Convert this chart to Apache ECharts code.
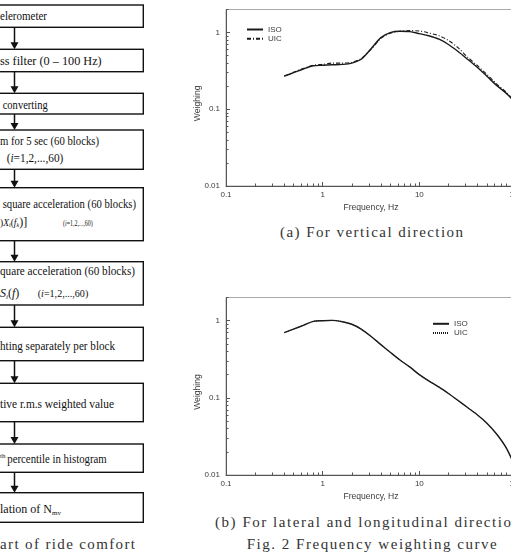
<!DOCTYPE html>
<html>
<head>
<meta charset="utf-8">
<script src="https://cdn.jsdelivr.net/npm/echarts@6/dist/echarts.min.js"></script>
<style>
html,body{margin:0;padding:0;width:511px;height:554px;overflow:hidden;background:#fff}
#fig{position:absolute;left:0;top:0}
#chart{position:absolute;left:0;top:0;width:560px;height:554px}
</style>
</head>
<body>
<svg id="fig" width="511" height="554" font-family="'Liberation Serif',serif">
  <g fill="none" stroke="#111" stroke-width="1.4">
    <rect x="-10" y="5" width="153.3" height="22.3"/>
    <rect x="-10" y="49.3" width="153.3" height="22.4"/>
    <rect x="-10" y="93.3" width="153.3" height="20.7"/>
    <rect x="-10" y="130" width="153.3" height="39.3"/>
    <rect x="-10" y="187.7" width="153.3" height="53"/>
    <rect x="-10" y="261.7" width="153.3" height="43.3"/>
    <rect x="-10" y="327.3" width="153.3" height="33.4"/>
    <rect x="-10" y="383.3" width="153.3" height="38.4"/>
    <rect x="-10" y="444" width="153.3" height="28.3"/>
    <rect x="-10" y="492.7" width="153.3" height="29.6"/>
  </g>
  <g id="arrows" stroke="#111" stroke-width="1.5" fill="#111"></g>
  <g fill="#111" font-size="12">
    <text x="0" y="20" textLength="47" lengthAdjust="spacingAndGlyphs">elerometer</text>
    <text x="0" y="65" textLength="101.7" lengthAdjust="spacingAndGlyphs">ss filter (0 – 100 Hz)</text>
    <text x="2.7" y="108.5" textLength="45" lengthAdjust="spacingAndGlyphs">converting</text>
    <text x="0" y="145" textLength="99" lengthAdjust="spacingAndGlyphs">m for 5 sec (60 blocks)</text>
    <text x="6.7" y="162" textLength="56.6" lengthAdjust="spacingAndGlyphs">(<tspan font-style="italic">i</tspan>=1,2,...,60)</text>
    <text x="2.7" y="208" textLength="133.3" lengthAdjust="spacingAndGlyphs">square acceleration (60 blocks)</text>
    <text x="0" y="225.5" font-size="9.5">)<tspan font-style="italic">X</tspan><tspan font-size="6" dy="1.5" font-style="italic">i</tspan><tspan dy="-1.5">(</tspan><tspan font-style="italic">f</tspan><tspan font-size="6" dy="1.5" font-style="italic">k</tspan><tspan dy="-1.5" font-size="12">)]</tspan></text>
    <text x="63" y="225.5" font-size="8" textLength="29.7" lengthAdjust="spacingAndGlyphs">(<tspan font-style="italic">i</tspan>=1,2,...,60)</text>
    <text x="0" y="274.5" textLength="135" lengthAdjust="spacingAndGlyphs">quare acceleration (60 blocks)</text>
    <text x="0" y="297"><tspan font-style="italic">S</tspan><tspan font-size="7" dy="1.5" font-style="italic">i</tspan><tspan dy="-1.5">(</tspan><tspan font-style="italic">f</tspan>)</text>
    <text x="37.7" y="297" font-size="11" textLength="50.6" lengthAdjust="spacingAndGlyphs">(<tspan font-style="italic">i</tspan>=1,2,...,60)</text>
    <text x="0" y="350" textLength="115" lengthAdjust="spacingAndGlyphs">hting separately per block</text>
    <text x="0" y="407.5" textLength="114" lengthAdjust="spacingAndGlyphs">tive r.m.s weighted value</text>
    <text x="0" y="458" font-size="7">th</text>
    <text x="7.3" y="462.5" textLength="99.4" lengthAdjust="spacingAndGlyphs">percentile in histogram</text>
    <text x="0" y="512.5">lation of N<tspan font-size="7" dy="2">mv</tspan></text>
  </g>
  <g fill="#333" font-size="15">
    <text x="0" y="549" textLength="135" lengthAdjust="spacing">art of ride comfort</text>
    <text x="280" y="236.5" textLength="183" lengthAdjust="spacing">(a) For vertical direction</text>
    <text x="215" y="527" textLength="305" lengthAdjust="spacing">(b) For lateral and longitudinal direction</text>
    <text x="246.7" y="549" textLength="250" lengthAdjust="spacing">Fig. 2 Frequency weighting curve</text>
  </g>
</svg>
<div id="chart"></div>
<script>
// frequency weighting curves (1/3 octave points)
const FREQ = [0.4, 0.5, 0.63, 0.8, 1, 1.25, 1.6, 2, 2.5, 3.15, 4, 5, 6.3, 8, 10, 12.5, 16, 20, 25, 31.5, 40, 50, 63, 80, 100];
const ISO_VERT = [0.27, 0.30, 0.335, 0.37, 0.375, 0.38, 0.385, 0.40, 0.45, 0.61, 0.86, 1.0, 1.04, 1.03, 0.97, 0.91, 0.82, 0.70, 0.57, 0.45, 0.35, 0.27, 0.205, 0.16, 0.12];
const UIC_VERT = [0.27, 0.305, 0.34, 0.375, 0.385, 0.40, 0.40, 0.41, 0.46, 0.60, 0.84, 0.98, 1.04, 1.06, 1.05, 0.99, 0.91, 0.79, 0.64, 0.48, 0.37, 0.285, 0.215, 0.165, 0.12];
const ISO_LAT = [0.70, 0.78, 0.87, 0.98, 1.0, 1.01, 0.97, 0.90, 0.78, 0.63, 0.49, 0.39, 0.31, 0.25, 0.20, 0.166, 0.138, 0.114, 0.093, 0.075, 0.060, 0.047, 0.034, 0.022, 0.012];
const UIC_LAT = [0.70, 0.78, 0.87, 0.98, 1.0, 1.01, 0.97, 0.90, 0.78, 0.63, 0.49, 0.39, 0.31, 0.25, 0.20, 0.166, 0.138, 0.114, 0.093, 0.075, 0.060, 0.047, 0.034, 0.022, 0.012];

const X_LABELS = [0.1, 1, 10, 100];
const X_MINOR = [0.2, 0.3, 0.4, 0.5, 0.6, 0.7, 0.8, 0.9, 2, 3, 4, 5, 6, 7, 8, 9, 20, 30, 40, 50, 60, 70, 80, 90];
const Y_LABELS = [0.01, 0.1, 1];
const Y_MINOR = [0.02, 0.03, 0.04, 0.05, 0.06, 0.07, 0.08, 0.09, 0.2, 0.3, 0.4, 0.5, 0.6, 0.7, 0.8, 0.9, 2];

const INK = '#3a3a3a';
const AXIS = '#555';
const LINE = '#1a1a1a';
const SANS = "'Liberation Sans',Arial,sans-serif";

// draw flowchart arrows between boxes
const ARROWS = [[27.3, 49.3], [71.7, 93.3], [114, 130], [169.3, 187.7], [240.7, 261.7], [305, 327.3], [360.7, 383.3], [421.7, 444], [472.3, 492.7]];
let arrowSvg = '';
ARROWS.forEach(a => {
  arrowSvg += '<path d="M14.5 ' + a[0] + 'V' + (a[1] - 6) + '" fill="none"/>';
  arrowSvg += '<path d="M10.5 ' + (a[1] - 7) + 'L18.5 ' + (a[1] - 7) + 'L14.5 ' + a[1] + 'Z" stroke="none"/>';
});
document.getElementById('arrows').innerHTML = arrowSvg;

function pairs(ys) {
  return FREQ.map((f, i) => [f, ys[i]]);
}

function mainX(gi) {
  return {
    type: 'log', gridIndex: gi, min: 0.1, max: 100,
    name: 'Frequency, Hz', nameLocation: 'middle', nameGap: 17.5,
    nameTextStyle: { fontSize: 8.6, color: INK, fontFamily: SANS },
    axisLine: { lineStyle: { color: AXIS, width: 1 } },
    axisTick: { inside: true, length: 4, customValues: X_LABELS, lineStyle: { color: AXIS } },
    axisLabel: { customValues: X_LABELS, fontSize: 8, color: INK, margin: 5, fontFamily: SANS },
    splitLine: { show: false }
  };
}

function mainY(gi) {
  return {
    type: 'log', gridIndex: gi, min: 0.01, max: 2,
    axisLine: { lineStyle: { color: AXIS, width: 1 } },
    axisTick: { inside: true, length: 4, customValues: Y_LABELS, lineStyle: { color: AXIS } },
    axisLabel: { customValues: Y_LABELS, fontSize: 8, color: INK, margin: 6, fontFamily: SANS },
    splitLine: { show: false }
  };
}

function minorX(gi) {
  return {
    type: 'log', gridIndex: gi, min: 0.1, max: 100,
    axisLine: { show: false }, axisLabel: { show: false }, splitLine: { show: false },
    axisTick: { inside: true, length: 2.5, customValues: X_MINOR, lineStyle: { color: AXIS } }
  };
}

function minorY(gi) {
  return {
    type: 'log', gridIndex: gi, min: 0.01, max: 2,
    axisLine: { show: false }, axisLabel: { show: false }, splitLine: { show: false },
    axisTick: { inside: true, length: 2.5, customValues: Y_MINOR, lineStyle: { color: AXIS } }
  };
}

// y-axis title sits a little below the plot's middle in the original
function yTitle(cy) {
  return {
    type: 'text', x: 198, y: cy, rotation: Math.PI / 2, silent: true,
    style: { text: 'Weighing', fill: INK, font: '8.6px ' + SANS, align: 'center', verticalAlign: 'middle' }
  };
}

const topRect = { left: 226, top: 9.5, width: 290, height: 176.5 };
const botRect = { left: 226, top: 297.5, width: 290, height: 177.5 };

const legendBase = {
  orient: 'vertical', padding: 0, itemWidth: 16, itemHeight: 8, itemGap: 1.3,
  selectedMode: false, formatter: n => n.trim(),
  itemStyle: { opacity: 0 },
  textStyle: { fontSize: 8, color: INK, fontFamily: SANS, lineHeight: 8 }
};

function curve(name, ax, ys, width, dash) {
  return {
    name: name, type: 'line', xAxisIndex: ax, yAxisIndex: ax, data: pairs(ys),
    symbol: 'none', smooth: 0.3, silent: true,
    itemStyle: { color: LINE },
    lineStyle: { color: LINE, width: width, type: dash }
  };
}

const chart = echarts.init(document.getElementById('chart'));
chart.setOption({
  animation: false,
  grid: [
    Object.assign({ show: true, borderColor: '#aaa', borderWidth: 1 }, topRect),
    Object.assign({ show: false }, topRect),
    Object.assign({ show: true, borderColor: '#aaa', borderWidth: 1 }, botRect),
    Object.assign({ show: false }, botRect)
  ],
  xAxis: [mainX(0), minorX(1), mainX(2), minorX(3)],
  yAxis: [mainY(0), minorY(1), mainY(2), minorY(3)],
  graphic: [yTitle(103.3), yTitle(392)],
  legend: [
    Object.assign({ data: ['ISO', 'UIC'], left: 246, top: 25.5 }, legendBase),
    Object.assign({ data: ['ISO ', 'UIC '], left: 432, top: 319.8 }, legendBase)
  ],
  series: [
    curve('UIC', 0, UIC_VERT, 1.1, [4, 2, 1, 2]),
    curve('ISO', 0, ISO_VERT, 1.4, 'solid'),
    curve('UIC ', 2, UIC_LAT, 0.9, [1, 1]),
    curve('ISO ', 2, ISO_LAT, 1.4, 'solid')
  ]
});
</script>
</body>
</html>
